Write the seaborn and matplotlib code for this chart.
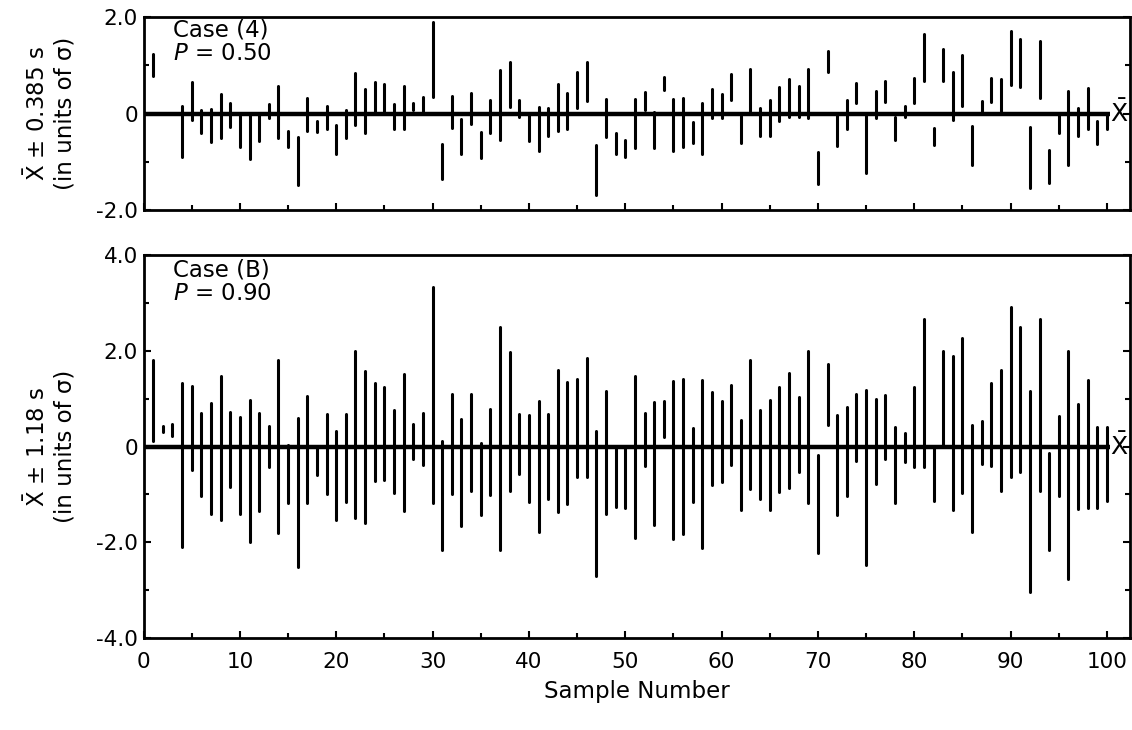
import numpy as np
import pandas as pd
import matplotlib
matplotlib.use("Agg")
import matplotlib.pyplot as plt
from matplotlib.ticker import MultipleLocator
import seaborn as sns

# sample numbers 1..100
samples = list(range(1, 101))

# case (4): X-bar +/- 0.385 s, upper / lower end of each interval
top_hi = [1.24, np.nan, np.nan, 0.15, 0.65, 0.08, 0.10, 0.41, 0.22, -0.05,
          -0.03, 0.02, 0.20, 0.57, -0.36, -0.48, 0.33, -0.15, 0.15, -0.24,
          0.07, 0.84, 0.50, 0.66, 0.62, 0.19, 0.57, 0.22, 0.34, 1.90,
          -0.64, 0.37, -0.12, 0.43, -0.39, 0.29, 0.90, 1.07, 0.28, -0.04,
          0.14, 0.12, 0.61, 0.43, 0.85, 1.06, -0.66, 0.30, -0.41, -0.55,
          0.31, 0.45, 0.03, 0.76, 0.31, 0.32, -0.17, 0.22, 0.50, 0.41,
          0.81, -0.05, 0.93, 0.12, 0.28, 0.55, 0.72, 0.57, 0.93, -0.79,
          1.30, -0.03, 0.28, 0.64, -0.06, 0.46, 0.68, -0.07, 0.15, 0.74,
          1.64, -0.31, 1.33, 0.85, 1.22, -0.26, 0.26, 0.74, 0.72, 1.71,
          1.55, -0.28, 1.50, -0.75, -0.03, 0.47, 0.12, 0.52, -0.15, 0.01]
top_lo = [0.77, np.nan, np.nan, -0.90, -0.14, -0.40, -0.59, -0.50, -0.28, -0.70,
          -0.95, -0.57, -0.10, -0.50, -0.70, -1.48, -0.36, -0.38, -0.33, -0.83,
          -0.50, -0.24, -0.41, 0.02, 0.00, -0.33, -0.33, 0.07, 0.06, 0.34,
          -1.36, -0.29, -0.83, -0.22, -0.92, -0.40, -0.55, 0.14, -0.08, -0.57,
          -0.77, -0.46, -0.36, -0.33, 0.12, 0.26, -1.68, -0.48, -0.83, -0.90,
          -0.72, 0.07, -0.72, 0.48, -0.77, -0.69, -0.62, -0.84, -0.09, -0.10,
          0.28, -0.62, 0.06, -0.46, -0.46, -0.16, -0.07, -0.07, -0.10, -1.46,
          0.86, -0.67, -0.33, 0.22, -1.24, -0.10, 0.24, -0.55, -0.07, 0.21,
          0.67, -0.66, 0.68, -0.14, 0.16, -1.07, 0.06, 0.24, 0.06, 0.59,
          0.54, -1.55, 0.33, -1.45, -0.41, -1.06, -0.47, -0.33, -0.64, -0.33]

# case (B): X-bar +/- 1.18 s
bot_hi = [1.80, 0.42, 0.47, 1.32, 1.27, 0.70, 0.90, 1.48, 0.72, 0.61,
          0.97, 0.71, 0.43, 1.81, 0.03, 0.60, 1.05, 0.00, 0.67, 0.33,
          0.68, 2.00, 1.57, 1.33, 1.25, 0.77, 1.52, 0.46, 0.69, 3.33,
          0.11, 1.09, 0.58, 1.10, 0.07, 0.79, 2.49, 1.98, 0.67, 0.65,
          0.96, 0.68, 1.60, 1.34, 1.42, 1.84, 0.33, 1.15, 0.00, 0.00,
          1.48, 0.70, 0.92, 0.94, 1.36, 1.41, 0.38, 1.39, 1.13, 0.95,
          1.28, 0.56, 1.80, 0.77, 0.97, 1.25, 1.53, 1.03, 1.99, -0.17,
          1.73, 0.65, 0.83, 1.10, 1.17, 1.00, 1.08, 0.41, 0.28, 1.25,
          2.67, 0.00, 1.99, 1.88, 2.27, 0.44, 0.54, 1.33, 1.59, 2.92,
          2.50, 1.15, 2.67, -0.14, 0.63, 2.00, 0.88, 1.38, 0.40, 0.40]
bot_lo = [0.11, 0.31, 0.22, -2.09, -0.49, -1.04, -1.42, -1.53, -0.85, -1.41,
          -1.99, -1.34, -0.42, -1.81, -1.17, -2.52, -1.18, -0.60, -0.99, -1.53,
          -1.16, -1.49, -1.60, -0.72, -0.70, -0.97, -1.35, -0.27, -0.38, -1.18,
          -2.17, -1.00, -1.66, -0.93, -1.43, -1.02, -2.16, -0.93, -0.58, -1.16,
          -1.78, -1.09, -1.36, -1.20, -0.63, -0.63, -2.71, -1.41, -1.27, -1.28,
          -1.91, -0.41, -1.63, 0.19, -1.94, -1.82, -1.15, -2.12, -0.81, -0.74,
          -0.39, -1.32, -0.89, -1.09, -1.32, -0.95, -0.86, -0.54, -1.19, -2.22,
          0.44, -1.44, -1.03, -0.30, -2.48, -0.78, -0.26, -1.17, -0.32, -0.43,
          -0.42, -1.14, 0.00, -1.32, -0.97, -1.78, -0.36, -0.40, -0.93, -0.63,
          -0.54, -3.03, -0.92, -2.16, -1.03, -2.76, -1.31, -1.29, -1.28, -1.13]

sns.set_style("ticks")
plt.rcParams["font.family"] = ["DejaVu Sans"]
plt.rcParams["mathtext.fontset"] = "dejavusans"
plt.rcParams["axes.linewidth"] = 2.0
for k in ["text.color", "axes.labelcolor", "xtick.color", "ytick.color",
          "axes.edgecolor"]:
    plt.rcParams[k] = "black"


def long_form(hi, lo):
    df = pd.DataFrame({"sample": samples * 2, "value": list(hi) + list(lo)})
    return df.dropna()


def draw_panel(ax, hi, lo, lim, label, case_text):
    df = long_form(hi, lo)
    sns.lineplot(data=df, x="sample", y="value", units="sample",
                 estimator=None, sort=False, color="black", lw=2.2, ax=ax)
    ax.hlines(0, 0, 100.3, color="black", lw=3.2, zorder=3)
    ax.text(100.35, 0, r"$\bar{\mathrm{X}}$", fontsize=18, va="center",
            ha="left")
    ax.set_xlim(0, 102.4)
    ax.set_ylim(-lim, lim)
    ax.xaxis.set_major_locator(MultipleLocator(10))
    ax.xaxis.set_minor_locator(MultipleLocator(5))
    ax.yaxis.set_major_locator(MultipleLocator(2))
    ax.yaxis.set_minor_locator(MultipleLocator(1))
    ax.set_yticklabels(["0" if t == 0 else f"{t:.1f}"
                        for t in ax.get_yticks()])
    ax.tick_params(which="both", direction="in", right=True, width=1.5,
                   labelsize=15.5)
    ax.tick_params(axis="y", pad=4)
    ax.tick_params(axis="x", pad=10)
    ax.tick_params(which="major", length=5)
    ax.tick_params(which="minor", length=3.5)
    ax.set_ylabel(label, fontsize=16.5, linespacing=1.2)
    ax.yaxis.set_label_coords(-0.068, 0.5)
    ax.set_xlabel("")
    ax.text(0.03, 0.99, case_text, transform=ax.transAxes, va="top",
            ha="left", fontsize=16.5, linespacing=1.0)


fig = plt.figure(figsize=(11.32, 7.30), dpi=100)
ax1 = fig.add_axes([0.1268, 0.7123, 0.8715, 0.2644])
ax2 = fig.add_axes([0.1268, 0.1260, 0.8715, 0.5247])

draw_panel(ax1, top_hi, top_lo, 2.0,
           "$\\bar{\\mathrm{X}}$ \u00b1 0.385 s\n(in units of \u03c3)",
           "Case (4)\n$P$ = 0.50")
draw_panel(ax2, bot_hi, bot_lo, 4.0,
           "$\\bar{\\mathrm{X}}$ \u00b1 1.18 s\n(in units of \u03c3)",
           "Case (B)\n$P$ = 0.90")

ax1.set_xticklabels([])
ax2.set_xticks(range(0, 101, 10))
ax2.set_xlabel("Sample Number", fontsize=16.5, labelpad=6)

fig.savefig("out.png", dpi=100)
plt.close(fig)
